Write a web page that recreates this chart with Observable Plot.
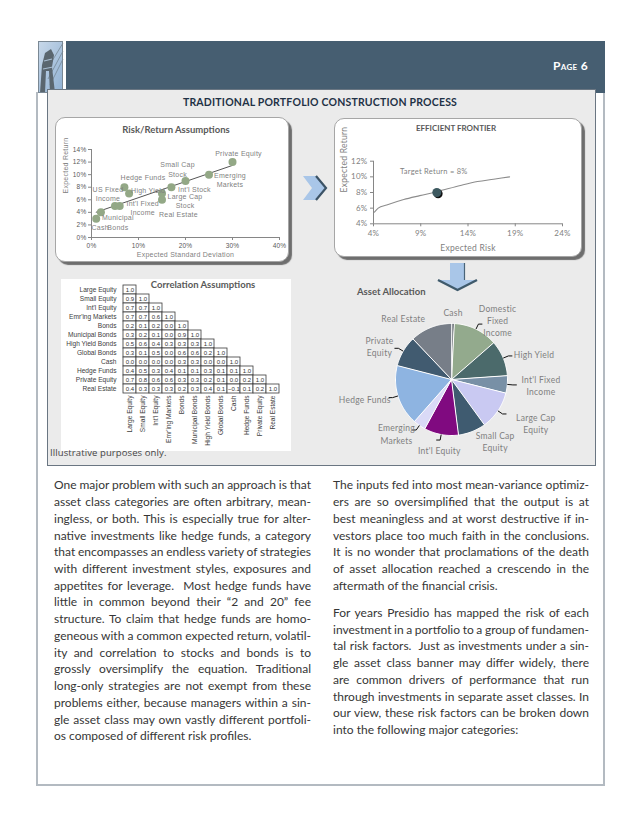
<!DOCTYPE html>
<html lang="en">
<head>
<meta charset="utf-8">
<title>Traditional Portfolio Construction Process</title>
<script src="https://cdn.jsdelivr.net/npm/d3@7"></script>
<script src="https://cdn.jsdelivr.net/npm/@observablehq/plot@0.6"></script>
<style>
  html, body { margin:0; padding:0; background:#fff; }
  body { width:640px; height:828px; position:relative; overflow:hidden; font-family: Lato, "Open Sans", sans-serif; }
  svg { overflow: visible; }
  .plotwrap svg { overflow: visible !important; display:block; }
  .txt { position:absolute; white-space:pre; height:16.73px; line-height:16.73px; font-size:12px; color:#363636; font-family: Lato, sans-serif; }
  .lbl text { letter-spacing: 0.25px; }
</style>
</head>
<body>
<script>
// ================= DATA =================
// Risk / return assumptions (percent)
const rrAssets   = ["Cash","Municipal Bonds","US Fixed Income","Int'l Fixed Income","Hedge Funds","High Yield","Large Cap Stock","Real Estate","Int'l Stock","Small Cap Stock","Emerging Markets","Private Equity"];
const rrLabels   = ["Cash","Municipal\nBonds","US Fixed\nIncome","Int'l Fixed\nIncome","Hedge Funds","High Yield","Large Cap\nStock","Real Estate","Int'l Stock","Small Cap\nStock","Emerging\nMarkets","Private Equity"];
const rrStdDev   = [1, 2, 5, 6, 7, 8, 15, 15, 17, 20, 25, 30];
const rrReturn   = [3, 4, 5, 5, 8, 7, 7, 6, 8, 9, 10, 12];
const rrXTicks   = [0, 10, 20, 30, 40];
const rrYTicks   = [0, 2, 4, 6, 8, 10, 12, 14];

// Efficient frontier (percent)
const frontierRisk   = [4.1, 4.5, 5.4, 7.2, 8.9, 10.7, 13.2, 15.0, 16.7, 18.4];
const frontierReturn = [5.5, 6.0, 6.4, 7.1, 7.6, 8.1, 8.9, 9.4, 9.7, 10.0];
const targetRisk     = [10.7];
const targetReturn   = [8];
const frontierXTicks = [4, 9, 14, 19, 24];
const frontierYTicks = [4, 6, 8, 10, 12];

// Correlation assumptions (lower triangle)
const corrLabels = ["Large Equity","Small Equity","Int'l Equity","Emr'ing Markets","Bonds","Municipal Bonds","High Yield Bonds","Global Bonds","Cash","Hedge Funds","Private Equity","Real Estate"];
const corrRows = [
  [1.0],
  [0.9, 1.0],
  [0.7, 0.7, 1.0],
  [0.7, 0.7, 0.6, 1.0],
  [0.2, 0.1, 0.2, 0.0, 1.0],
  [0.3, 0.2, 0.1, 0.0, 0.9, 1.0],
  [0.5, 0.6, 0.4, 0.3, 0.3, 0.3, 1.0],
  [0.3, 0.1, 0.5, 0.0, 0.6, 0.6, 0.2, 1.0],
  [0.0, 0.0, 0.0, 0.0, 0.3, 0.3, 0.0, 0.0, 1.0],
  [0.4, 0.5, 0.3, 0.4, 0.1, 0.1, 0.3, 0.1, 0.1, 1.0],
  [0.7, 0.8, 0.6, 0.6, 0.3, 0.3, 0.2, 0.1, 0.0, 0.2, 1.0],
  [0.4, 0.3, 0.3, 0.3, 0.2, 0.3, 0.4, 0.1, -0.1, 0.1, 0.2, 1.0]
];

// Asset allocation (percent, clockwise from 12 o'clock)
const allocNames   = ["Cash","Domestic Fixed Income","High Yield","Int'l Fixed Income","Large Cap Equity","Small Cap Equity","Int'l Equity","Emerging Markets","Hedge Funds","Private Equity","Real Estate"];
const allocLabels  = ["Cash","Domestic\nFixed\nIncome","High Yield","Int'l Fixed\nIncome","Large Cap\nEquity","Small Cap\nEquity","Int'l Equity","Emerging\nMarkets","Hedge Funds","Private\nEquity","Real Estate"];
const allocWeights = [0.8, 12.8, 10.3, 5.0, 11.1, 8.0, 9.9, 3.6, 17.5, 8.9, 12.1];

// Text
const pageLabel = "Page 6";
const panelTitle = "TRADITIONAL PORTFOLIO CONSTRUCTION PROCESS";
const leftParagraph = [
  "One major problem with such an approach is that",
  "asset class categories are often arbitrary, mean-",
  "ingless, or both. This is especially true for alter-",
  "native investments like hedge funds, a category",
  "that encompasses an endless variety of strategies",
  "with different investment styles, exposures and",
  "appetites for leverage.  Most hedge funds have",
  "little in common beyond their \u201c2 and 20\u201d fee",
  "structure. To claim that hedge funds are homo-",
  "geneous with a common expected return, volatil-",
  "ity and correlation to stocks and bonds is to",
  "grossly oversimplify the equation. Traditional",
  "long-only strategies are not exempt from these",
  "problems either, because managers within a sin-",
  "gle asset class may own vastly different portfoli-",
  "os composed of different risk profiles."
];
const rightParagraph1 = [
  "The inputs fed into most mean-variance optimiz-",
  "ers are so oversimplified that the output is at",
  "best meaningless and at worst destructive if in-",
  "vestors place too much faith in the conclusions.",
  "It is no wonder that proclamations of the death",
  "of asset allocation reached a crescendo in the",
  "aftermath of the financial crisis."
];
const rightParagraph2 = [
  "For years Presidio has mapped the risk of each",
  "investment in a portfolio to a group of fundamen-",
  "tal risk factors.  Just as investments under a sin-",
  "gle asset class banner may differ widely, there",
  "are common drivers of performance that run",
  "through investments in separate asset classes. In",
  "our view, these risk factors can be broken down",
  "into the following major categories:"
];

// ================= STYLE / LAYOUT =================
const rrLabelOffset = {          // [dx, dy] in px from each point
  "Cash": [4, 8], "Municipal Bonds": [17, 9.5], "US Fixed Income": [-7, -12.7],
  "Int'l Fixed Income": [23, 1.4], "Hedge Funds": [18.6, -10], "High Yield": [19, -4],
  "Large Cap Stock": [23, 6.7], "Real Estate": [16.4, 14], "Int'l Stock": [23, 2],
  "Small Cap Stock": [-8, -12], "Emerging Markets": [21, 5], "Private Equity": [6, -9]
};
const allocColors = ["#4e555c","#93aa8d","#4b6a6b","#7890a6","#c9c9f2","#3f5b70","#800a80","#dadaf7","#8eb4e1","#415b70","#777e88"];
const labelRadius = {"Cash": 1.1, "Large Cap Equity": 1.4};
const noLeader = new Set(["Cash","Real Estate","Small Cap Equity"]);

// ================= HELPERS =================
function el(tag, css, html) {
  const e = document.createElement(tag);
  e.style.cssText = css;
  if (html !== undefined) e.innerHTML = html;
  document.body.appendChild(e);
  return e;
}
function placeSvg(svg, left, top, cls) {
  const wrap = el("div", `position:absolute;left:${left}px;top:${top}px;`);
  wrap.className = "plotwrap" + (cls ? " " + cls : "");
  svg.style.overflow = "visible";
  wrap.appendChild(svg);
  return wrap;
}

// ================= PAGE FRAME =================
el("div", "position:absolute;left:36px;top:92px;width:2px;height:694px;background:#b3bac1;");
el("div", "position:absolute;left:603px;top:92px;width:2px;height:694px;background:#b3bac1;");
el("div", "position:absolute;left:36px;top:784px;width:569px;height:2px;background:#b3bac1;");
el("div", "position:absolute;left:66px;top:41px;width:539px;height:52px;background:#465e71;");
el("div", "position:absolute;left:480px;top:58px;width:108px;text-align:right;color:#fff;font:700 12px Lato,sans-serif;font-variant:small-caps;letter-spacing:0.3px;", pageLabel);
el("div", "position:absolute;left:38px;top:41px;width:25px;height:52px;", `
<svg width="25" height="52" viewBox="0 0 25 52">
  <defs><linearGradient id="lg" x1="0" y1="0" x2="1" y2="1"><stop offset="0" stop-color="#c9d9ea"/><stop offset="1" stop-color="#8fb0d2"/></linearGradient></defs>
  <rect width="25" height="52" fill="url(#lg)"/>
  <path d="M25 2 L8 30 M25 10 L10 38 M25 18 L12 44" stroke="#6f7f8c" stroke-width="0.7"/>
  <path d="M2 52 L4 24 L7 12 L13 8 L16 14 L14 26 L17 52 L12 52 L11 30 L8 30 L7 52 Z" fill="#5a666f"/>
  <path d="M6 20 L14 18 M5 28 L15 26" stroke="#a8bdd2" stroke-width="1.2"/>
  <rect x="0.5" y="0.5" width="24" height="51" fill="none" stroke="#7a8894"/>
</svg>`);

el("div", "position:absolute;left:47px;top:89px;width:549px;height:377px;box-sizing:border-box;background:#ebebeb;border:1px solid #6a7682;");
el("div", "position:absolute;left:120px;top:96px;width:400px;text-align:center;font:700 10.5px Lato,sans-serif;color:#1f3246;letter-spacing:0.2px;", panelTitle);

// ================= RISK / RETURN SCATTER =================
el("div", "position:absolute;left:55px;top:117px;width:234px;height:145px;box-sizing:border-box;background:#fff;border:1px solid #a6a6a6;border-radius:10px;box-shadow:3px 3px 1px #6e6e6e;");
el("div", "position:absolute;left:96px;top:124px;width:160px;text-align:center;font:700 9.5px Lato,sans-serif;color:#595959;", "Risk/Return Assumptions");

const rrData = rrAssets.map((name, i) => ({name, label: rrLabels[i], sd: rrStdDev[i], ret: rrReturn[i]}));
const pct = d => d + "%";
const rr = Plot.plot({
  width: 235, height: 145,
  marginLeft: 36, marginRight: 11, marginTop: 32, marginBottom: 25,
  style: {background: "transparent", fontFamily: "'Liberation Sans', Arial, sans-serif", fontSize: "6.5px", color: "#595959", overflow: "visible"},
  x: {domain: [0, 40]},
  y: {domain: [0, 14]},
  marks: [
    Plot.axisX({ticks: rrXTicks, tickFormat: pct, tickSize: 3, tickPadding: 3, stroke: "#868686", label: null, fontSize: 6.5}),
    Plot.axisY({ticks: rrYTicks, tickFormat: pct, tickSize: 3, tickPadding: 2, stroke: "#868686", label: null, fontSize: 6.5}),
    Plot.ruleY([0], {stroke: "#868686"}),
    Plot.ruleX([0], {stroke: "#868686"}),
    Plot.linearRegressionY(rrData, {x: "sd", y: "ret", ci: 0, stroke: "#555", strokeWidth: 1}),
    Plot.dot(rrData, {x: "sd", y: "ret", r: 4, fill: "#93a886", stroke: "none"}),
    ...rrData.map(d => Plot.text([d], {
      x: "sd", y: "ret", text: "label",
      dx: rrLabelOffset[d.name][0], dy: rrLabelOffset[d.name][1],
      textAnchor: "middle", lineAnchor: "middle", lineHeight: 1.35,
      fontSize: 7, fill: "#7f7f7f"
    })),
    Plot.text(["Expected Standard Deviation"], {frameAnchor: "bottom", dy: 19, fontSize: 7, fill: "#7f7f7f"}),
    Plot.text(["Expected Return"], {frameAnchor: "left", dx: -26, rotate: -90, fontSize: 7, fill: "#7f7f7f"})
  ]
});
placeSvg(rr, 55, 117, "lbl");

el("div", "position:absolute;left:302px;top:175px;width:26px;height:26px;", `
<svg width="26" height="26"><polygon points="1,1 14,1 24,13 14,25 1,25 10,13" fill="#a9c6e8"/>
<polyline points="14,1 24,13 14,25" fill="none" stroke="#3c5366" stroke-width="2.2"/></svg>`);

// ================= EFFICIENT FRONTIER =================
el("div", "position:absolute;left:334px;top:118px;width:248px;height:139px;box-sizing:border-box;background:#fff;border:1px solid #a6a6a6;border-radius:10px;box-shadow:3px 3px 1px #6e6e6e;");
el("div", "position:absolute;left:376px;top:123px;width:160px;text-align:center;font:700 8px Lato,sans-serif;color:#595959;", "EFFICIENT FRONTIER");

const frontier = frontierRisk.map((r, i) => ({risk: r, ret: frontierReturn[i]}));
const target = targetRisk.map((r, i) => ({risk: r, ret: targetReturn[i]}));
const ef = Plot.plot({
  width: 248, height: 139,
  marginLeft: 39, marginRight: 20, marginTop: 42.7, marginBottom: 33.7,
  style: {background: "transparent", fontFamily: "Lato, sans-serif", fontSize: "8px", color: "#7f7f7f", overflow: "visible"},
  x: {domain: [4, 24]},
  y: {domain: [4, 12]},
  marks: [
    Plot.axisX({ticks: frontierXTicks, tickFormat: pct, tickSize: 3, tickPadding: 4, stroke: "#868686", label: null, fontSize: 8}),
    Plot.axisY({ticks: frontierYTicks, tickFormat: pct, tickSize: 3, tickPadding: 3, stroke: "#868686", label: null, fontSize: 8}),
    Plot.ruleY([4], {stroke: "#868686"}),
    Plot.ruleX([4], {stroke: "#868686"}),
    Plot.line(frontier, {x: "risk", y: "ret", curve: "monotone-x", stroke: "#8c8c8c", strokeWidth: 1.1}),
    Plot.dot(target, {x: "risk", y: "ret", r: 4.5, fill: "#111", dx: 1.3, dy: 1.3}),
    Plot.dot(target, {x: "risk", y: "ret", r: 4.5, fill: "#3d5960"}),
    Plot.text(target, {x: "risk", y: "ret", text: d => `Target Return = ${d.ret}%`, dx: -3, dy: -21, fontSize: 7.5, fill: "#7f7f7f"}),
    Plot.text(["Expected Risk"], {frameAnchor: "bottom", dy: 27.5, fontSize: 8.5, fill: "#7f7f7f"}),
    Plot.text(["Expected Return"], {frameAnchor: "left", dx: -29, rotate: -90, fontSize: 8.5, fill: "#7f7f7f"})
  ]
});
placeSvg(ef, 334, 118, "lbl");

el("div", "position:absolute;left:437px;top:262px;width:42px;height:32px;", `
<svg width="42" height="32"><rect x="13" y="1" width="15" height="18" fill="#a9c6e8"/>
<line x1="27.5" y1="1" x2="27.5" y2="19" stroke="#4a6478" stroke-width="1.2"/>
<polygon points="1,18 40,18 20.5,28" fill="#a9c6e8"/>
<polyline points="1,18 20.5,28 40,18" fill="none" stroke="#3f5a6c" stroke-width="2.4"/></svg>`);

// ================= CORRELATION MATRIX =================
el("div", "position:absolute;left:61px;top:279px;width:230px;height:172px;background:#fff;");
el("div", "position:absolute;left:143px;top:279px;width:120px;text-align:center;font:700 9.5px Lato,sans-serif;color:#595959;", "Correlation Assumptions");
const corrCells = corrRows.flatMap((row, i) => row.map((v, j) => ({row: corrLabels[i], col: corrLabels[j], v})));
const cm = Plot.plot({
  width: 229, height: 172,
  marginLeft: 57, marginRight: 5.5, marginTop: 5.5, marginBottom: 58,
  style: {background: "transparent", fontFamily: "'Liberation Sans', Arial, sans-serif", fontSize: "6.5px", color: "#404040", overflow: "visible"},
  x: {domain: corrLabels, padding: 0},
  y: {domain: corrLabels, padding: 0},
  marks: [
    Plot.cell(corrCells, {x: "col", y: "row", fill: "#fff", stroke: "#3a3a3a", strokeWidth: 0.8, inset: 0}),
    Plot.text(corrCells, {x: "col", y: "row", text: d => d3.format(".1f")(d.v), fontSize: 6, fill: "#333"}),
    Plot.axisX({anchor: "bottom", tickRotate: -90, tickSize: 0, tickPadding: 2, label: null, fontSize: 6.6}),
    Plot.axisY({anchor: "left", tickSize: 0, tickPadding: 2, label: null, fontSize: 6.6})
  ]
});
placeSvg(cm, 61, 279);
el("div", "position:absolute;left:50px;top:446px;font-family:'Open Sans',sans-serif;font-weight:400;font-size:9.5px;color:#454545;letter-spacing:0.1px;", "Illustrative purposes only.");

// ================= ASSET ALLOCATION PIE =================
el("div", "position:absolute;left:357px;top:286px;font:700 9.5px Lato,sans-serif;color:#595959;", "Asset Allocation");
const pieLeft = 330, pieTop = 285, pieW = 265, pieH = 180, R = 56;
const cx = 451 - pieLeft, cy = 379 - pieTop;
const total = d3.sum(allocWeights);
let acc = 0;
const slices = allocNames.map((name, i) => {
  const a0 = acc / total * 2 * Math.PI; acc += allocWeights[i];
  const a1 = acc / total * 2 * Math.PI;
  return {name, label: allocLabels[i], a0, a1, mid: (a0 + a1) / 2};
});
const slicePts = slices.flatMap(s => {
  const n = Math.max(2, Math.ceil((s.a1 - s.a0) / 0.02));
  const pts = [{name: s.name, x: 0, y: 0}];
  for (let k = 0; k <= n; k++) {
    const a = s.a0 + (s.a1 - s.a0) * k / n;
    pts.push({name: s.name, x: Math.sin(a), y: Math.cos(a)});
  }
  return pts;
});
const charW = 4.3 / R, lineH = 12 / R;
const pieLabels = slices.map(s => {
  const k = labelRadius[s.name] ?? 1.18;
  const sx = Math.sin(s.mid), cyy = Math.cos(s.mid);
  const lines = s.label.split("\n");
  const half = d3.max(lines, l => l.length) * charW / 2;
  const side = sx > 0.3 ? 1 : sx < -0.3 ? -1 : 0;
  let lx = k * sx + side * half, ly = k * cyy;
  if (cyy > 0.97) ly += lines.length * lineH / 2;
  if (cyy < -0.97) ly -= lines.length * lineH / 2;
  return {name: s.name, label: s.label, lx, ly};
});
const leaderPts = slices.filter(s => !noLeader.has(s.name)).flatMap(s => {
  const sx = Math.sin(s.mid), cyy = Math.cos(s.mid);
  const side = sx >= 0 ? 1 : -1;
  return [
    {name: s.name, x: sx, y: cyy},
    {name: s.name, x: 1.1 * sx, y: 1.1 * cyy},
    {name: s.name, x: 1.1 * sx + side * 0.07, y: 1.1 * cyy}
  ];
});
const pie = Plot.plot({
  width: pieW, height: pieH, margin: 0,
  style: {background: "transparent", fontFamily: "Lato, sans-serif", fontSize: "8.5px", overflow: "visible"},
  x: {domain: [-1, 1], range: [cx - R, cx + R], axis: null},
  y: {domain: [-1, 1], range: [cy + R, cy - R], axis: null},
  color: {domain: allocNames, range: allocColors},
  marks: [
    Plot.line(slicePts, {x: "x", y: "y", z: "name", fill: "name", stroke: "#fff", strokeWidth: 1, curve: "linear-closed"}),
    Plot.line(leaderPts, {x: "x", y: "y", z: "name", stroke: "#111", strokeWidth: 1, strokeLinecap: "butt", strokeLinejoin: "miter"}),
    Plot.text(pieLabels, {x: "lx", y: "ly", text: "label", textAnchor: "middle", lineAnchor: "middle", lineHeight: 1.45, fontSize: 8.5, fill: "#7f7f7f"})
  ]
});
placeSvg(pie, pieLeft, pieTop, "lbl");

// ================= BODY TEXT =================
function addParagraph(lines, left, top, width) {
  lines.forEach((t, i) => {
    const d = el("div", `left:${left}px;top:${top + i * 16.73}px;`);
    d.className = "txt";
    const sp = document.createElement("span");
    sp.textContent = t;
    d.appendChild(sp);
    const natural = sp.getBoundingClientRect().width;
    const spaces = (t.match(/ /g) || []).length;
    const last = i === lines.length - 1;
    if (spaces && (!last || natural > width)) {
      d.style.wordSpacing = ((width - natural) / spaces) + "px";
    }
  });
}
const lineTop0 = 485.7 - 16.73 / 2;
addParagraph(leftParagraph, 54, lineTop0, 257);
addParagraph(rightParagraph1, 333, lineTop0, 256);
addParagraph(rightParagraph2, 333, 613.3 - 16.73 / 2, 256);
</script>
</body>
</html>
